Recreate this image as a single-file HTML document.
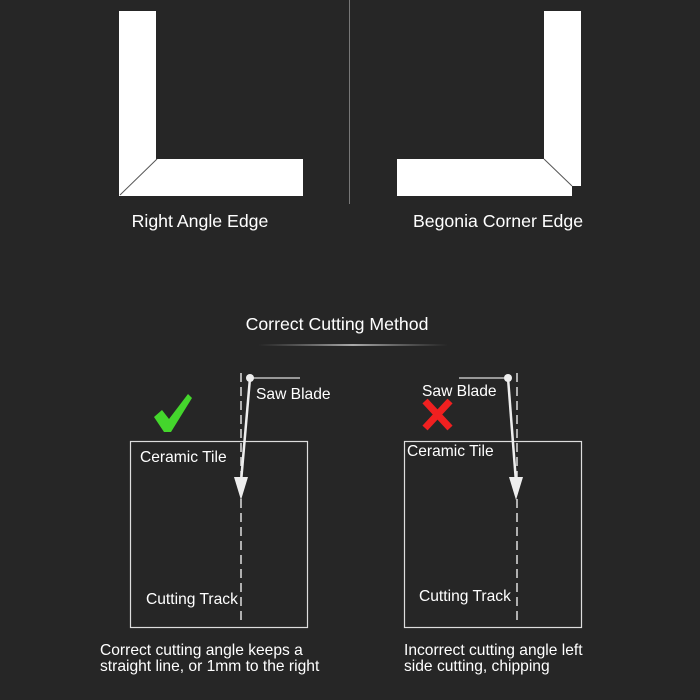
<!DOCTYPE html>
<html><head><style>
body{margin:0;background:#262626;}
svg{display:block;}
text{font-family:"Liberation Sans",Arial,sans-serif;fill:#fff;}
</style></head><body>
<svg width="700" height="700" viewBox="0 0 700 700" xmlns="http://www.w3.org/2000/svg">
<defs>
<linearGradient id="g" x1="0" x2="1"><stop offset="0" stop-color="#888" stop-opacity="0"/><stop offset="0.5" stop-color="#aaa"/><stop offset="1" stop-color="#888" stop-opacity="0"/></linearGradient>
</defs>
<rect width="700" height="700" fill="#262626"/>
<line x1="349.5" y1="0" x2="349.5" y2="204" stroke="#777" stroke-width="1"/>
<polygon points="119,11 156,11 156,159 303,159 303,196 119,196" fill="#fff"/>
<line x1="120" y1="195" x2="157" y2="159" stroke="#555" stroke-width="1"/>
<polygon points="544,11 581,11 581,186 572,186 572,196 397,196 397,159 544,159" fill="#fff"/>
<line x1="544" y1="159" x2="572" y2="186" stroke="#555" stroke-width="1"/>
<text x="200" y="227" font-size="17.7" text-anchor="middle">Right Angle Edge</text>
<text x="498" y="227" font-size="17.7" text-anchor="middle">Begonia Corner Edge</text>
<text x="337" y="330" font-size="17.7" text-anchor="middle">Correct Cutting Method</text>
<rect x="258" y="344" width="190" height="2" fill="url(#g)"/>
<rect x="130.5" y="441.5" width="177" height="186" fill="none" stroke="#ddd" stroke-width="1.2"/>
<line x1="241" y1="373" x2="241" y2="622" stroke="#ddd" stroke-width="1.5" stroke-dasharray="9,5"/>
<line x1="250" y1="378" x2="300" y2="378" stroke="#ddd" stroke-width="1.2"/>
<line x1="250" y1="378" x2="241" y2="482" stroke="#eee" stroke-width="2.5"/>
<polygon points="234,477 248,477 241,500" fill="#eee"/>
<circle cx="250" cy="378" r="4" fill="#eee"/>
<polygon points="154,417 162,410 169,419 188,394 192,398 171,432 164,432" fill="#44d62c"/>
<text x="256" y="399" font-size="15.6">Saw Blade</text>
<text x="140" y="462" font-size="15.6">Ceramic Tile</text>
<text x="146" y="604" font-size="15.6">Cutting Track</text>
<text x="100" y="655" font-size="15.6">Correct cutting angle keeps a</text>
<text x="100" y="671" font-size="15.6">straight line, or 1mm to the right</text>
<rect x="404.5" y="441.5" width="177" height="186" fill="none" stroke="#ddd" stroke-width="1.2"/>
<line x1="517" y1="373" x2="517" y2="622" stroke="#ddd" stroke-width="1.5" stroke-dasharray="9,5"/>
<line x1="459" y1="378" x2="508" y2="378" stroke="#ddd" stroke-width="1.2"/>
<line x1="508" y1="378" x2="516" y2="482" stroke="#eee" stroke-width="2.5"/>
<polygon points="509,477 523,477 516,500" fill="#eee"/>
<circle cx="508" cy="378" r="4" fill="#eee"/>
<text x="422" y="396" font-size="15.6">Saw Blade</text>
<path d="M425,401 L450,428 M450,401 L425,428" stroke="#f02020" stroke-width="7"/>
<text x="407" y="456" font-size="15.6">Ceramic Tile</text>
<text x="419" y="601" font-size="15.6">Cutting Track</text>
<text x="404" y="655" font-size="15.6">Incorrect cutting angle left</text>
<text x="404" y="671" font-size="15.6">side cutting, chipping</text>
</svg>
</body></html>
